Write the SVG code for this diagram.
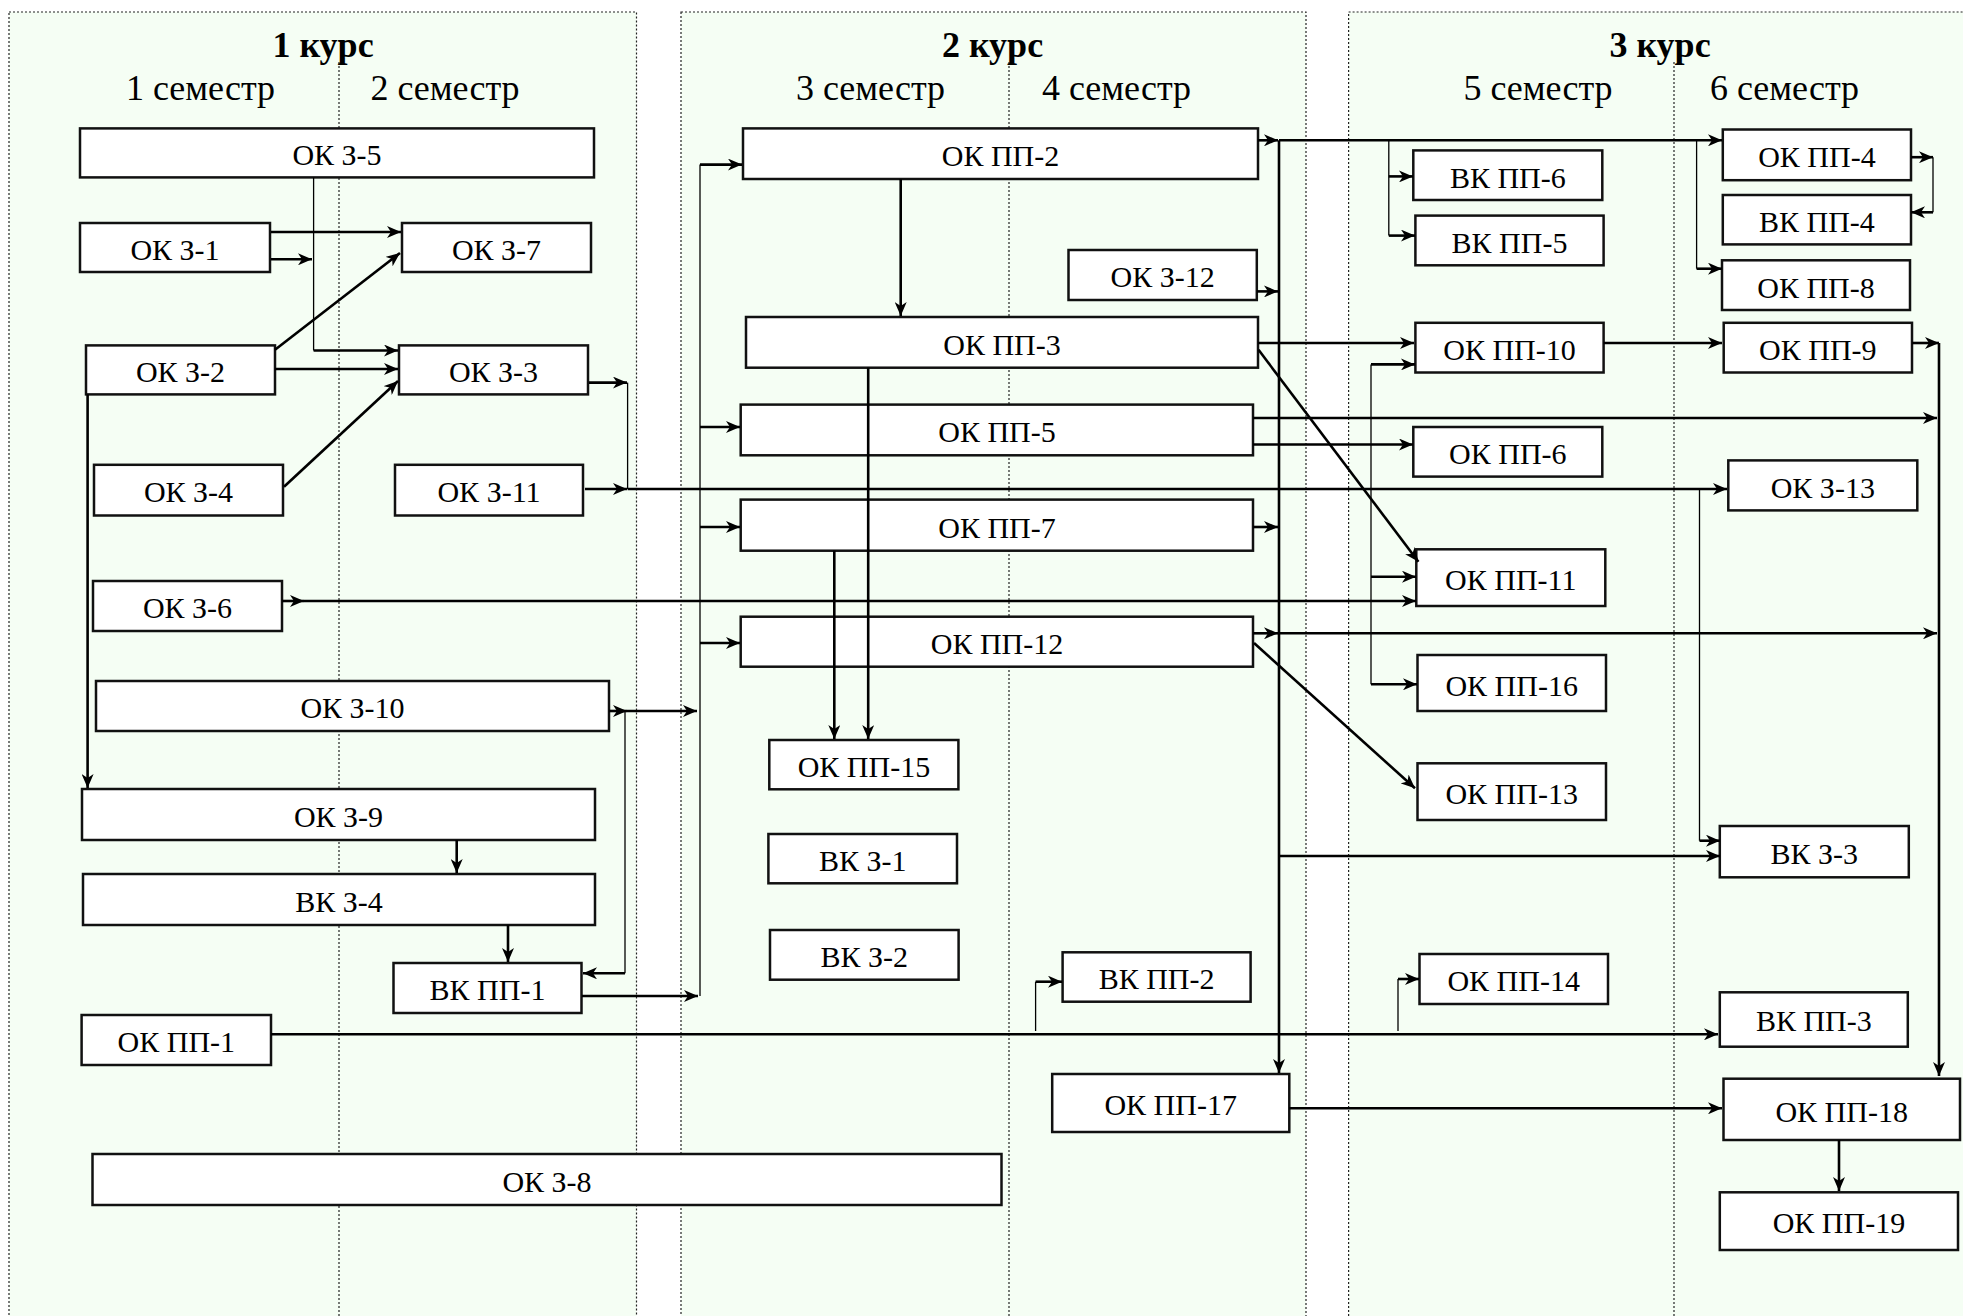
<svg xmlns="http://www.w3.org/2000/svg" width="1963" height="1316" viewBox="0 0 1963 1316">
<style>
.panel{fill:#f5fef4;stroke:#222;stroke-width:1.2;stroke-dasharray:2,2}
.div{stroke:#222;stroke-width:1.2;stroke-dasharray:2,2;fill:none}
.box{fill:#fff;stroke:#111;stroke-width:2.5}
.lbl{font-family:"Liberation Serif","Times New Roman",serif;font-size:30px;text-anchor:middle;fill:#000}
.hd{font-family:"Liberation Serif","Times New Roman",serif;font-size:36px;text-anchor:middle;fill:#000}
.hdb{font-family:"Liberation Serif","Times New Roman",serif;font-size:36px;font-weight:bold;text-anchor:middle;fill:#000}
.t{stroke:#000;stroke-width:2.6;fill:none}
.n{stroke:#000;stroke-width:1.3;fill:none}
.ar{marker-end:url(#a)}
</style>
<defs>
<marker id="a" viewBox="0 0 14 12" refX="14" refY="6" markerWidth="14" markerHeight="12" orient="auto" markerUnits="userSpaceOnUse"><path d="M0,0 L14,6 L0,12 L4,6 Z" fill="#000"/></marker>
</defs>
<rect width="1963" height="1316" fill="#fff"/>
<g id="panels">
<rect class="panel" x="9" y="12" width="627.5" height="1320"/>
<rect class="panel" x="681" y="12" width="625" height="1320"/>
<rect class="panel" x="1348.6" y="12" width="640" height="1320"/>
<line class="div" x1="339" y1="62" x2="339" y2="1316"/>
<line class="div" x1="1009" y1="62" x2="1009" y2="1316"/>
<line class="div" x1="1674" y1="62" x2="1674" y2="1316"/>
<text class="hdb" x="323" y="57">1 курс</text>
<text class="hdb" x="992.5" y="57">2 курс</text>
<text class="hdb" x="1660" y="57">3 курс</text>
<text class="hd" x="200.5" y="100">1 семестр</text>
<text class="hd" x="445" y="100">2 семестр</text>
<text class="hd" x="870.5" y="100">3 семестр</text>
<text class="hd" x="1116.5" y="100">4 семестр</text>
<text class="hd" x="1538" y="100">5 семестр</text>
<text class="hd" x="1784.5" y="100">6 семестр</text>
</g>
<g id="n-ok3-5"><rect class="box" x="80" y="128.4" width="514" height="49"/><text class="lbl" x="337" y="165">ОК З-5</text></g>
<g id="n-ok3-1"><rect class="box" x="80" y="223" width="190" height="49"/><text class="lbl" x="175" y="259.5">ОК З-1</text></g>
<g id="n-ok3-7"><rect class="box" x="402" y="223" width="189" height="49"/><text class="lbl" x="496.5" y="259.5">ОК З-7</text></g>
<g id="n-ok3-2"><rect class="box" x="86" y="345.4" width="189" height="49"/><text class="lbl" x="180.5" y="382">ОК З-2</text></g>
<g id="n-ok3-3"><rect class="box" x="399" y="345.4" width="189" height="49"/><text class="lbl" x="493.5" y="382">ОК З-3</text></g>
<g id="n-ok3-4"><rect class="box" x="94" y="464.8" width="189" height="50.7"/><text class="lbl" x="188.5" y="502">ОК З-4</text></g>
<g id="n-ok3-11"><rect class="box" x="395" y="464.8" width="188" height="50.7"/><text class="lbl" x="489" y="502">ОК З-11</text></g>
<g id="n-ok3-6"><rect class="box" x="93" y="581" width="189" height="50"/><text class="lbl" x="187.5" y="618">ОК З-6</text></g>
<g id="n-ok3-10"><rect class="box" x="96" y="681" width="513" height="50"/><text class="lbl" x="352.5" y="718">ОК З-10</text></g>
<g id="n-ok3-9"><rect class="box" x="82" y="789" width="513" height="51"/><text class="lbl" x="338.5" y="827">ОК З-9</text></g>
<g id="n-vk3-4"><rect class="box" x="83" y="874" width="512" height="51"/><text class="lbl" x="339" y="912">ВК З-4</text></g>
<g id="n-vkpp-1"><rect class="box" x="393.5" y="963" width="188" height="50"/><text class="lbl" x="487.5" y="1000">ВК ПП-1</text></g>
<g id="n-okpp-1"><rect class="box" x="81.6" y="1015" width="189.4" height="50"/><text class="lbl" x="176.3" y="1052">ОК ПП-1</text></g>
<g id="n-ok3-8"><rect class="box" x="92.5" y="1154" width="909" height="51"/><text class="lbl" x="547" y="1192">ОК З-8</text></g>
<g id="n-okpp-2"><rect class="box" x="743" y="128.4" width="515" height="50.6"/><text class="lbl" x="1000.5" y="166">ОК ПП-2</text></g>
<g id="n-ok3-12"><rect class="box" x="1068.5" y="250" width="188.3" height="50"/><text class="lbl" x="1162.6" y="287">ОК З-12</text></g>
<g id="n-okpp-3"><rect class="box" x="746" y="317" width="512" height="50.7"/><text class="lbl" x="1002" y="355">ОК ПП-3</text></g>
<g id="n-okpp-5"><rect class="box" x="740.7" y="404.6" width="512.3" height="50.7"/><text class="lbl" x="997" y="442">ОК ПП-5</text></g>
<g id="n-okpp-7"><rect class="box" x="740.7" y="499.6" width="512.3" height="51.1"/><text class="lbl" x="997" y="537.5">ОК ПП-7</text></g>
<g id="n-okpp-12"><rect class="box" x="740.7" y="616.7" width="512.3" height="50"/><text class="lbl" x="997" y="654">ОК ПП-12</text></g>
<g id="n-okpp-15"><rect class="box" x="769.3" y="740" width="189.1" height="49.3"/><text class="lbl" x="863.9" y="777">ОК ПП-15</text></g>
<g id="n-vk3-1"><rect class="box" x="768.4" y="834" width="188.6" height="49.3"/><text class="lbl" x="862.7" y="871">ВК З-1</text></g>
<g id="n-vk3-2"><rect class="box" x="770" y="930" width="188.6" height="49.7"/><text class="lbl" x="864.3" y="967">ВК З-2</text></g>
<g id="n-vkpp-2"><rect class="box" x="1062.6" y="952.3" width="188" height="49.4"/><text class="lbl" x="1156.6" y="989">ВК ПП-2</text></g>
<g id="n-okpp-17"><rect class="box" x="1052.2" y="1074" width="237.1" height="58"/><text class="lbl" x="1170.7" y="1115">ОК ПП-17</text></g>
<g id="n-vkpp-6"><rect class="box" x="1413.3" y="150.4" width="189" height="49.6"/><text class="lbl" x="1507.8" y="187.5">ВК ПП-6</text></g>
<g id="n-vkpp-5"><rect class="box" x="1415.4" y="215.6" width="188.2" height="49.7"/><text class="lbl" x="1509.5" y="253">ВК ПП-5</text></g>
<g id="n-okpp-10"><rect class="box" x="1415.4" y="322.8" width="188.2" height="49.7"/><text class="lbl" x="1509.5" y="360">ОК ПП-10</text></g>
<g id="n-okpp-6"><rect class="box" x="1413.3" y="427" width="189" height="49.6"/><text class="lbl" x="1507.8" y="464">ОК ПП-6</text></g>
<g id="n-okpp-11"><rect class="box" x="1416.3" y="549.3" width="189" height="56.7"/><text class="lbl" x="1510.8" y="590">ОК ПП-11</text></g>
<g id="n-okpp-16"><rect class="box" x="1417.5" y="655" width="188.5" height="56"/><text class="lbl" x="1511.7" y="695.5">ОК ПП-16</text></g>
<g id="n-okpp-13"><rect class="box" x="1417.5" y="763.3" width="188.5" height="56.7"/><text class="lbl" x="1511.7" y="804">ОК ПП-13</text></g>
<g id="n-okpp-14"><rect class="box" x="1419.5" y="954" width="188.5" height="50"/><text class="lbl" x="1513.7" y="991">ОК ПП-14</text></g>
<g id="n-okpp-4"><rect class="box" x="1722.8" y="129.5" width="188.2" height="50.7"/><text class="lbl" x="1816.9" y="167">ОК ПП-4</text></g>
<g id="n-vkpp-4"><rect class="box" x="1722.8" y="195" width="188.2" height="49.4"/><text class="lbl" x="1816.9" y="232">ВК ПП-4</text></g>
<g id="n-okpp-8"><rect class="box" x="1722" y="260.3" width="188" height="49.7"/><text class="lbl" x="1816" y="297.5">ОК ПП-8</text></g>
<g id="n-okpp-9"><rect class="box" x="1723.7" y="322.8" width="188.3" height="49.7"/><text class="lbl" x="1817.8" y="360">ОК ПП-9</text></g>
<g id="n-ok3-13"><rect class="box" x="1728.3" y="460.4" width="189" height="50"/><text class="lbl" x="1822.8" y="497.5">ОК З-13</text></g>
<g id="n-vk3-3"><rect class="box" x="1719.8" y="826" width="189" height="51.3"/><text class="lbl" x="1814.3" y="864">ВК З-3</text></g>
<g id="n-vkpp-3"><rect class="box" x="1719.8" y="992.3" width="188" height="54.4"/><text class="lbl" x="1813.8" y="1031">ВК ПП-3</text></g>
<g id="n-okpp-18"><rect class="box" x="1723.5" y="1078.7" width="236.5" height="61.3"/><text class="lbl" x="1841.7" y="1121.5">ОК ПП-18</text></g>
<g id="n-okpp-19"><rect class="box" x="1719.8" y="1192.3" width="238.2" height="57.7"/><text class="lbl" x="1838.9" y="1233">ОК ПП-19</text></g>
<g id="connectors">
<path class="n" d="M313.6,177.5 V350.5"/>
<path class="t ar" d="M313.6,350.5 H398"/>
<path class="t ar" d="M271,232 H401"/>
<path class="t ar" d="M271,259.3 H312"/>
<path class="t ar" d="M275,349.8 L400,253"/>
<path class="t ar" d="M275,369 H398"/>
<path class="t ar" d="M284,486.7 L398,381"/>
<path class="t ar" d="M589,382.6 H627"/>
<path class="n" d="M627.6,382.6 V489"/>
<path class="t ar" d="M585,489 H627"/>
<path class="t ar" d="M627.6,489 H1727"/>
<path class="t ar" d="M87.6,394.4 V788"/>
<path class="t ar" d="M282,601 H304"/>
<path class="t ar" d="M304,601 H1416"/>
<path class="t ar" d="M609,711 H627"/>
<path class="t ar" d="M627,711 H697"/>
<path class="n" d="M625,711 V973.3"/>
<path class="t ar" d="M625,973.3 H583"/>
<path class="t ar" d="M456.7,840 V873"/>
<path class="t ar" d="M508,925 V962"/>
<path class="t ar" d="M582,996 H698"/>
<path class="n" d="M700,164.6 V996"/>
<path class="t ar" d="M700,164.6 H742"/>
<path class="t ar" d="M700,427 H740"/>
<path class="t ar" d="M700,527 H740"/>
<path class="t ar" d="M700,643 H740"/>
<path class="t ar" d="M271,1034.3 H1718"/>
<path class="n" d="M1035.6,1031 V981.7"/>
<path class="t ar" d="M1035.6,981.7 H1062"/>
<path class="n" d="M1398,1031 V979"/>
<path class="t ar" d="M1398,979 H1419"/>
<path class="t ar" d="M1258,140.3 H1278"/>
<path class="t ar" d="M1279,140.3 H1722"/>
<path class="t ar" d="M1279,140.3 V1073"/>
<path class="t ar" d="M1257,291.4 H1278"/>
<path class="t ar" d="M1253,527 H1278"/>
<path class="t ar" d="M1253,633.3 H1278"/>
<path class="t ar" d="M1278,633.3 H1937"/>
<path class="t ar" d="M1253,418 H1937"/>
<path class="t ar" d="M1253,444.5 H1413"/>
<path class="t ar" d="M1258,343 H1414"/>
<path class="t ar" d="M1258.5,349.8 L1418.4,561.7"/>
<path class="t ar" d="M1254,643 L1415,788.3"/>
<path class="t ar" d="M900.7,179 V316"/>
<path class="t ar" d="M868.2,367.7 V739"/>
<path class="t ar" d="M834.3,550.7 V739"/>
<path class="n" d="M1388.8,140.3 V235.6"/>
<path class="t ar" d="M1388.8,176.4 H1413"/>
<path class="t ar" d="M1388.8,235.6 H1415"/>
<path class="n" d="M1696.6,140.3 V268.7"/>
<path class="t ar" d="M1696.6,268.7 H1722"/>
<path class="t ar" d="M1911,157.2 H1933"/>
<path class="n" d="M1933,157.2 V212.3"/>
<path class="t ar" d="M1933,212.3 H1911"/>
<path class="t ar" d="M1603.6,343 H1722"/>
<path class="t ar" d="M1912,343 H1939"/>
<path class="t ar" d="M1939,343 V1076"/>
<path class="n" d="M1371,364.4 V684.3"/>
<path class="t ar" d="M1371,364.4 H1415"/>
<path class="t ar" d="M1371,576.7 H1416"/>
<path class="t ar" d="M1371,684.3 H1417"/>
<path class="n" d="M1699.5,489 V840.7"/>
<path class="t ar" d="M1699.5,840.7 H1720"/>
<path class="t ar" d="M1279,856 H1720"/>
<path class="t ar" d="M1289,1108.3 H1722"/>
<path class="t ar" d="M1839,1140 V1191"/>
</g>
</svg>
